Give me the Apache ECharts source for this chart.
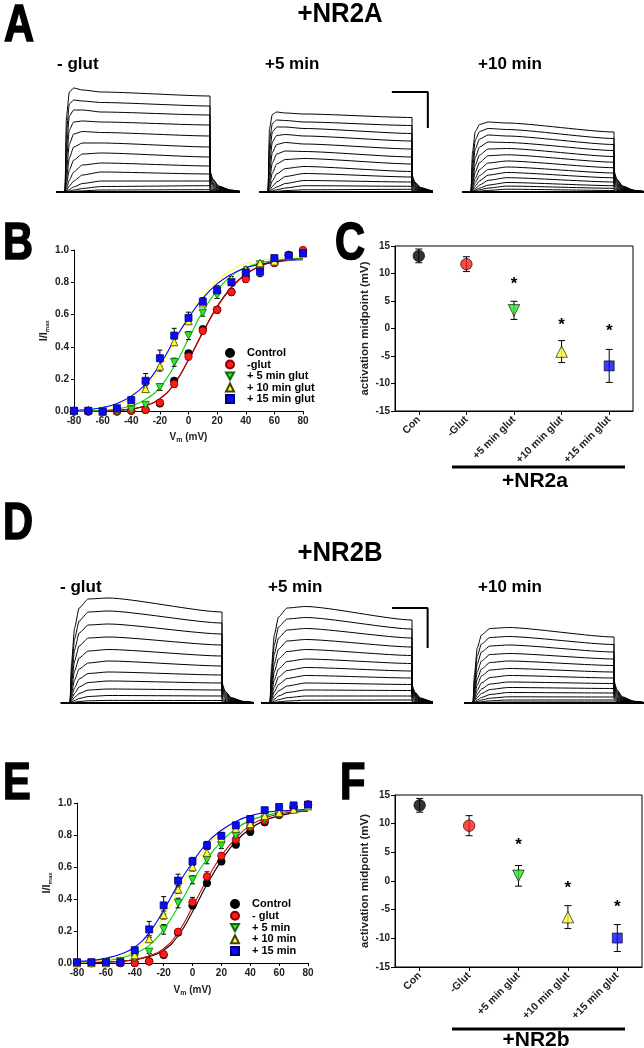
<!DOCTYPE html>
<html><head><meta charset="utf-8">
<script src="https://cdn.jsdelivr.net/npm/echarts/dist/echarts.min.js"></script>
<style>html,body{margin:0;padding:0;background:#fff}#c{width:644px;height:1048px}</style>
</head><body><div id="c"></div><script>
const FONT = 'Liberation Sans, Arial, Helvetica, sans-serif';

// ---------- I/Imax vs Vm (panels B, E) ----------
const VM = [-80,-70,-60,-50,-40,-30,-20,-10,0,10,20,30,40,50,60,70,80];

const B_CONTROL = [0,0,0,0,0.005,0.01,0.05,0.19,0.36,0.51,0.63,0.74,0.83,0.90,0.92,0.97,0.99];
const B_GLUT    = [0,0,0,0,0.005,0.01,0.055,0.17,0.34,0.50,0.63,0.74,0.82,0.89,0.92,0.965,1.0];
const B_5MIN    = [0,0,0,0,0.01,0.04,0.15,0.305,0.47,0.61,0.72,0.80,0.86,0.91,0.93,0.96,0.98];
const B_10MIN   = [0.005,0.01,0,0.02,0.06,0.14,0.28,0.43,0.56,0.67,0.76,0.82,0.88,0.92,0.93,0.96,0.98];
const B_15MIN   = [0.005,0.005,0,0.02,0.07,0.19,0.33,0.47,0.58,0.68,0.75,0.80,0.86,0.865,0.95,0.965,0.98];
const B_CONTROL_ERR = [0,0,0,0,0,0.005,0.01,0.015,0.015,0.015,0.015,0.015,0.02,0.015,0.01,0.01,0.01];
const B_GLUT_ERR    = [0,0,0,0,0,0.005,0.01,0.02,0.02,0.02,0.02,0.02,0.02,0.015,0.01,0.01,0.01];
const B_5MIN_ERR    = [0,0,0,0,0.005,0.01,0.02,0.025,0.025,0.02,0.02,0.015,0.015,0.01,0.01,0.01,0.01];
const B_10MIN_ERR   = [0,0,0,0.005,0.01,0.02,0.03,0.02,0.02,0.02,0.02,0.015,0.015,0.01,0.01,0.01,0.01];
const B_15MIN_ERR   = [0.005,0,0,0.01,0.02,0.045,0.05,0.045,0.035,0.025,0.02,0.02,0.025,0.03,0.015,0.01,0.015];
const B_FIT_CONTROL = [0,0.001,0.003,0.007,0.015,0.035,0.08,0.17,0.32,0.49,0.65,0.77,0.85,0.90,0.93,0.94,0.95];
const B_FIT_GLUT    = [0,0.001,0.003,0.007,0.016,0.036,0.08,0.17,0.32,0.49,0.645,0.765,0.85,0.90,0.925,0.94,0.95];
const B_FIT_5MIN    = [0,0.004,0.008,0.016,0.035,0.075,0.15,0.28,0.45,0.62,0.75,0.84,0.89,0.92,0.935,0.945,0.95];
const B_FIT_10MIN   = [0.005,0.01,0.02,0.04,0.08,0.15,0.27,0.42,0.575,0.71,0.81,0.875,0.915,0.935,0.948,0.953,0.956];
const B_FIT_15MIN   = [0.006,0.012,0.025,0.05,0.095,0.17,0.29,0.44,0.58,0.70,0.79,0.85,0.89,0.91,0.925,0.935,0.94];

const E_CONTROL = [0,0,0,0,0,0.01,0.05,0.19,0.36,0.50,0.635,0.74,0.82,0.88,0.925,0.97,0.99];
const E_GLUT    = [0,0,0,0,0,0.01,0.055,0.195,0.38,0.54,0.67,0.77,0.85,0.89,0.93,0.97,0.99];
const E_5MIN    = [0,0,0.005,0.01,0.03,0.07,0.21,0.375,0.52,0.645,0.735,0.795,0.85,0.90,0.93,0.96,0.985];
const E_10MIN   = [0,0,0,0.01,0.05,0.15,0.30,0.46,0.60,0.69,0.78,0.84,0.87,0.92,0.94,0.96,0.98];
const E_15MIN   = [0.005,0.005,0.005,0.005,0.08,0.21,0.36,0.515,0.635,0.735,0.795,0.86,0.90,0.955,0.975,0.985,0.99];
const E_CONTROL_ERR = [0,0,0,0,0,0.005,0.01,0.015,0.02,0.02,0.02,0.02,0.02,0.02,0.015,0.01,0.01];
const E_GLUT_ERR    = [0,0,0,0,0,0.005,0.01,0.015,0.03,0.03,0.02,0.02,0.02,0.02,0.015,0.01,0.01];
const E_5MIN_ERR    = [0,0,0,0,0.005,0.01,0.03,0.03,0.025,0.025,0.02,0.02,0.02,0.015,0.01,0.01,0.01];
const E_10MIN_ERR   = [0,0,0,0.005,0.01,0.02,0.025,0.025,0.025,0.02,0.02,0.02,0.02,0.015,0.01,0.01,0.01];
const E_15MIN_ERR   = [0.005,0,0,0,0.01,0.05,0.055,0.04,0.025,0.025,0.02,0.02,0.02,0.015,0.015,0.01,0.01];
const E_FIT_CONTROL = [0,0.002,0.005,0.01,0.02,0.04,0.08,0.17,0.32,0.49,0.64,0.76,0.84,0.89,0.92,0.94,0.95];
const E_FIT_GLUT    = [0,0.002,0.006,0.012,0.022,0.045,0.09,0.19,0.35,0.52,0.67,0.78,0.86,0.905,0.93,0.945,0.95];
const E_FIT_5MIN    = [0.005,0.01,0.015,0.03,0.06,0.11,0.21,0.35,0.51,0.65,0.76,0.84,0.89,0.92,0.94,0.95,0.955];
const E_FIT_10MIN   = [0.005,0.01,0.02,0.04,0.08,0.16,0.29,0.45,0.60,0.73,0.82,0.88,0.92,0.94,0.95,0.955,0.96];
const E_FIT_15MIN   = [0.01,0.015,0.03,0.055,0.10,0.19,0.33,0.49,0.63,0.75,0.83,0.885,0.92,0.94,0.95,0.955,0.96];

const B_NAMES = ['Control','-glut','+ 5 min glut','+ 10 min glut','+ 15 min glut'];
const E_NAMES = ['Control','- glut','+ 5 min','+ 10 min','+ 15 min'];

// ---------- activation midpoints (panels C, F) ----------
const MID_CATS = ['Con','-Glut','+5 min glut','+10 min glut','+15 min glut'];
const C_MID = [13.2, 11.7, 3.3, -4.2, -6.8];
const C_SEM = [1.25, 1.35, 1.65, 2.0, 3.0];
const C_STAR = [null, null, 8.7, 1.3, 0.2];
const F_MID = [13.2, 9.65, 0.9, -6.3, -9.95];
const F_SEM = [1.2, 1.75, 1.8, 2.0, 2.35];
const F_STAR = [null, null, 7.0, -0.6, -3.9];

// ---------- current traces (panels A, D) ----------
// amplitude at STEP_T (after t=0) then tail amplitude at TAIL_T (last tail point returns to 0)
const STEP_T = [0, 1, 3, 6, 12, 25, 100];
const TAIL_T = [100, 102, 106, 114, 125];
const A_GLUT = [
 [75,100,104,102,100,96, 21,13,6,2],
 [60,88,92,91,89.5,86, 19,12,5.5,1.8],
 [45,76,82,82,80,77, 17,10.5,5,1.6],
 [33,62,70,71,70,67, 15,9,4.5,1.4],
 [22,48,58,60.5,59.5,56, 13,8,4,1.2],
 [14,34,45,49,49,45, 11,7,3.3,1],
 [8,22,32,38,39,35, 9,5.5,2.7,0.8],
 [4,12,20,27,29,26, 7,4.3,2.1,0.6],
 [2,6,11,17,20,18, 5,3,1.5,0.5],
 [1,2.5,5,8.5,11,11, 3.5,2.2,1,0.3],
 [0.3,1,2,3.5,5.5,6.3, 2,1.2,0.6,0.2],
 [0,0.3,0.7,1.2,2,2.3, 1,0.6,0.3,0.1]
];
const A_5MIN = [
 [63,77.5,80,79,78,74.5, 17,10,4.5,1.4],
 [49.5,68.5,72,71.5,70,66.5, 15.5,9,4,1.2],
 [38,60,65,65,63.5,58.5, 13.5,8,3.6,1.1],
 [27,50,56.5,57.5,56,51, 11.5,7,3.2,0.9],
 [18,39.5,47.5,49.5,48,43, 10,6,2.7,0.8],
 [11,29,38,41,40.5,35, 8.5,5.1,2.3,0.7],
 [6.3,19,28,32.5,33.5,28, 7.2,4.3,2,0.6],
 [3.6,11,18,23.5,25.5,20.5, 5.8,3.5,1.6,0.5],
 [1.8,5.4,10,15.5,18.5,15, 4.5,2.7,1.3,0.4],
 [0.9,2.7,5,8.5,11.5,10, 3.2,1.9,0.9,0.3],
 [0.4,1.1,2.2,4,6.3,5.7, 1.8,1.1,0.5,0.2],
 [0.1,0.4,0.7,1.4,2.2,2.7, 0.9,0.5,0.3,0.1]
];
const A_10MIN = [
 [39,60.5,67.5,70,69,60, 21,13,6,1.7],
 [30,52,60.5,63.5,62.5,53.5, 19,12,5.6,1.6],
 [23.5,43,53,57,56,47.5, 17.3,10.8,5.2,1.5],
 [16.5,34.5,45,50,49.5,41.5, 15.5,9.5,4.6,1.3],
 [11.2,27,37,43,43.5,35.5, 13.8,8.6,4.1,1.1],
 [7.8,20,29.5,36.3,37.2,29.8, 12,7.4,3.5,1],
 [5.2,13.8,22.5,29,31,24.3, 10.4,6.4,3,0.9],
 [3.5,9.5,16.5,22.5,25,19, 8.6,5.4,2.6,0.7],
 [2.2,6,11.2,16.9,19.5,14.2, 6.9,4.3,2.1,0.6],
 [1.3,3.5,6.9,11.7,14.3,10, 5.2,3.2,1.6,0.4],
 [0.7,1.9,3.9,6.9,9.5,6.3, 3.9,2.4,1.1,0.3],
 [0.3,1,2.2,3.9,5.9,3.7, 2.6,1.6,0.8,0.2],
 [0.1,0.3,0.8,1.6,2.8,1.5, 1.3,0.8,0.3,0.1]
];
const D_GLUT = [
 [40,75,95,104,105,91, 20,12,5.5,1.6],
 [33,64,82,91,92,80, 18,11,5,1.4],
 [26,53,70,78,79,69, 16,9.5,4.4,1.3],
 [20,42,57,65,66,58, 14,8.4,3.9,1.1],
 [15,32,45,52,53.5,47, 12,7.2,3.3,1],
 [10,23,34,40,42,37, 10,6,2.8,0.8],
 [6.5,15,24,29.5,31,28, 8,4.8,2.2,0.6],
 [4,9.5,16,20.5,22,20, 6,3.6,1.7,0.5],
 [2,5.5,9.5,13,14,13, 4,2.4,1.1,0.3],
 [1,2.5,4.5,6.5,7.5,7, 2.5,1.5,0.7,0.2],
 [0.3,0.8,1.5,2.2,2.6,2.5, 1,0.6,0.3,0.1]
];
const D_5MIN = [
 [35,68,86,95,96.5,83, 18,11,5,1.5],
 [29,58,76,84,85.5,74, 16.5,10,4.6,1.4],
 [23,49,65,73,74.5,65, 15,9,4.2,1.2],
 [18,39,54,62,63.5,56, 13.5,8,3.8,1.1],
 [13,31,44,51.5,53.5,47.5, 12,7.2,3.4,1],
 [9,23,34,41.5,44,39.5, 10.5,6.3,3,0.9],
 [6,16,26,32.5,35.5,32, 9,5.4,2.5,0.7],
 [4,11,18.5,24.5,27.5,25, 7.5,4.5,2.1,0.6],
 [2.5,7,12,17,20,18.5, 6,3.6,1.7,0.5],
 [1.3,3.8,7,10.5,13,12.5, 4.5,2.7,1.3,0.4],
 [0.6,1.8,3.3,5.3,7,7, 3,1.8,0.8,0.2],
 [0.2,0.6,1.2,2,2.8,3, 1.5,0.9,0.4,0.1]
];
const D_10MIN = [
 [28,55,68,74.5,75.5,66, 22,13.5,6.2,1.8],
 [23,47,59,65.5,66.5,58.5, 20,12.3,5.6,1.6],
 [18,39,51,57,58,51, 18,11,5,1.4],
 [14,31,42,48.5,49.5,44, 16,9.8,4.5,1.3],
 [10,24,34,40.5,42,37.5, 14,8.6,3.9,1.1],
 [7,18,27,33,34.5,31, 12,7.4,3.4,1],
 [5,12.5,20,25.5,27.5,25, 10,6.1,2.8,0.8],
 [3,8.5,14,19,21,19.5, 8.5,5.2,2.4,0.7],
 [2,5.5,9.5,13.5,15.5,14.5, 7,4.3,2,0.6],
 [1,3,5.5,8.5,10.5,10, 5.5,3.4,1.5,0.4],
 [0.5,1.5,3,4.8,6.2,6, 4,2.4,1.1,0.3],
 [0.2,0.6,1.3,2.2,3,3, 2.5,1.5,0.7,0.2],
 [0.1,0.2,0.4,0.7,1,1, 1.2,0.7,0.3,0.1]
];
// scale bars (time units, amplitude units of the +5 min group)
const A_BAR_T = [86, 111, 111], A_BAR_AMP = [100, 100, 64];
const D_BAR_T = [86, 111, 111], D_BAR_AMP = [95, 95, 55];

// ---------- layout ----------
const TRACE_LAYOUT = [
  {rows: A_GLUT,  onset: 65,  off: 210, base: 192, xmax: 120},
  {rows: A_5MIN,  onset: 268, off: 412, base: 192, xmax: 114, bar: [A_BAR_T, A_BAR_AMP]},
  {rows: A_10MIN, onset: 471, off: 614, base: 192, xmax: 120},
  {rows: D_GLUT,  onset: 70,  off: 222, base: 703, xmax: 120},
  {rows: D_5MIN,  onset: 270, off: 412, base: 703, xmax: 114, bar: [D_BAR_T, D_BAR_AMP]},
  {rows: D_10MIN, onset: 473, off: 614, base: 703, xmax: 120}
];
const XMIN = -6, AMP_MAX = 118;

const STYLES = [
  {symbol: 'circle', rot: 0, color: '#000000', border: '#000000', line: '#000000'},
  {symbol: 'circle', rot: 0, color: '#ff1a1a', border: '#8a0000', line: '#d40000'},
  {symbol: 'triangle', rot: 180, color: '#2ee62e', border: '#0f6a0f', line: '#00d200'},
  {symbol: 'triangle', rot: 0, color: '#ffff33', border: '#444400', line: '#ffff40'},
  {symbol: 'rect', rot: 0, color: '#0a0aff', border: '#00007a', line: '#0000ff'}
];
const DOWN_TRIANGLE = 'path://M0,0L10,0L5,9Z';

const grids = [], xAxes = [], yAxes = [], series = [];

function errRender(cap) {
  return function (params, api) {
    const x = api.value(0);
    const lo = api.coord([x, api.value(1)]);
    const hi = api.coord([x, api.value(2)]);
    const st = {stroke: '#000', lineWidth: 1};
    return {type: 'group', children: [
      {type: 'line', shape: {x1: lo[0], y1: lo[1], x2: hi[0], y2: hi[1]}, style: st},
      {type: 'line', shape: {x1: hi[0] - cap, y1: hi[1], x2: hi[0] + cap, y2: hi[1]}, style: st},
      {type: 'line', shape: {x1: lo[0] - cap, y1: lo[1], x2: lo[0] + cap, y2: lo[1]}, style: st}
    ]};
  };
}

const axisLabelStyle = {fontFamily: FONT, fontWeight: 'bold', fontSize: 10, color: '#222'};
const axisLine = {show: true, onZero: false, lineStyle: {color: '#000', width: 1}};

function ivPanel(g, box, sets, xNameGap) {
  grids.push({left: box.left, top: box.top, width: box.width, height: box.height});
  xAxes.push({gridIndex: g, type: 'value', min: -80, max: 80, interval: 20,
    axisLine, axisTick: {show: true, inside: false, length: 3, lineStyle: {color: '#000'}},
    axisLabel: Object.assign({margin: 5}, axisLabelStyle), splitLine: {show: false},
    name: 'V{s|m} (mV)', nameLocation: 'middle', nameGap: xNameGap,
    nameTextStyle: {fontFamily: FONT, fontWeight: 'bold', fontSize: 10, color: '#222',
      rich: {s: {fontFamily: FONT, fontWeight: 'bold', fontSize: 7, color: '#222', padding: [6, 0, 0, 0]}}}});
  yAxes.push({gridIndex: g, type: 'value', min: 0, max: 1, interval: 0.2,
    axisLine, axisTick: {show: true, inside: false, length: 3, lineStyle: {color: '#000'}},
    axisLabel: Object.assign({margin: 5, formatter: v => v.toFixed(1)}, axisLabelStyle), splitLine: {show: false},
    name: 'I/I{s|max}', nameLocation: 'middle', nameGap: 24, nameRotate: 90,
    nameTextStyle: {fontFamily: FONT, fontWeight: 'bold', fontSize: 11, color: '#222',
      rich: {s: {fontFamily: FONT, fontWeight: 'bold', fontSize: 6, color: '#222', padding: [7, 0, 0, 0]}}}});
  sets.forEach((s, k) => {
    const st = STYLES[k];
    series.push({type: 'line', name: s.name + ' fit', xAxisIndex: g, yAxisIndex: g, smooth: 0.5,
      symbol: 'none', data: VM.map((v, i) => [v, s.fit[i]]), lineStyle: {color: st.line, width: 1.1}, z: 2, silent: true});
  });
  sets.forEach((s) => {
    series.push({type: 'custom', xAxisIndex: g, yAxisIndex: g, renderItem: errRender(2.5), z: 3, silent: true,
      data: VM.map((v, i) => [v, s.mean[i] - s.err[i], s.mean[i] + s.err[i]]).filter(d => d[2] - d[1] > 0.012)});
  });
  sets.forEach((s, k) => {
    const st = STYLES[k];
    series.push({type: 'scatter', name: s.name, xAxisIndex: g, yAxisIndex: g, symbol: st.symbol, symbolRotate: st.rot,
      symbolSize: st.symbol === 'rect' ? 7 : 7.5, data: VM.map((v, i) => [v, s.mean[i]]),
      itemStyle: {color: st.color, borderColor: st.border, borderWidth: 0.8, opacity: 1}, z: 4 + k * 0.01});
  });
}

function midPanel(g, box, mids, sems, stars) {
  grids.push({left: box.left, top: box.top, width: box.width, height: box.height, show: true, borderColor: '#000', borderWidth: 1});
  xAxes.push({gridIndex: g, type: 'category', data: MID_CATS, boundaryGap: true,
    axisLine, axisTick: {show: true, alignWithLabel: true, inside: false, length: 4, lineStyle: {color: '#000'}},
    axisLabel: {rotate: 45, margin: 7, fontFamily: FONT, fontWeight: 'bold', fontSize: 10.5, color: '#222', interval: 0},
    splitLine: {show: false}});
  yAxes.push({gridIndex: g, type: 'value', min: -15, max: 15, interval: 5,
    axisLine, axisTick: {show: true, inside: false, length: 4, lineStyle: {color: '#000'}},
    axisLabel: Object.assign({margin: 5}, axisLabelStyle), splitLine: {show: false},
    name: 'activation midpoint (mV)', nameLocation: 'middle', nameGap: 24, nameRotate: 90,
    nameTextStyle: {fontFamily: FONT, fontWeight: 'bold', fontSize: 11.5, color: '#222'}});
  series.push({type: 'custom', xAxisIndex: g, yAxisIndex: g, renderItem: errRender(3.5), z: 3, silent: true,
    data: mids.map((m, i) => [i, m - sems[i], m + sems[i]])});
  series.push({type: 'scatter', xAxisIndex: g, yAxisIndex: g, z: 4, silent: true,
    data: mids.map((m, i) => {
      const st = STYLES[i];
      return {value: [i, m], symbol: st.symbol, symbolRotate: st.rot, symbolSize: st.symbol === 'rect' ? 10 : 11.5,
        itemStyle: {color: st.color, borderColor: '#000', borderWidth: 0.8}};
    })});
  series.push({type: 'custom', xAxisIndex: g, yAxisIndex: g, z: 5, silent: true,
    data: stars.map((s, i) => [i, s]).filter(d => d[1] !== null),
    renderItem: (params, api) => {
      const p = api.coord([api.value(0), api.value(1)]);
      return {type: 'text', x: p[0], y: p[1] + 4,
        style: {text: '*', fill: '#000', font: 'bold 17px ' + FONT, align: 'center', verticalAlign: 'middle',
          textAlign: 'center', textVerticalAlign: 'middle'}};
    }});
}

ivPanel(0, {left: 74, top: 250, width: 229, height: 161.5}, [
  {name: B_NAMES[0], mean: B_CONTROL, err: B_CONTROL_ERR, fit: B_FIT_CONTROL},
  {name: B_NAMES[1], mean: B_GLUT, err: B_GLUT_ERR, fit: B_FIT_GLUT},
  {name: B_NAMES[2], mean: B_5MIN, err: B_5MIN_ERR, fit: B_FIT_5MIN},
  {name: B_NAMES[3], mean: B_10MIN, err: B_10MIN_ERR, fit: B_FIT_10MIN},
  {name: B_NAMES[4], mean: B_15MIN, err: B_15MIN_ERR, fit: B_FIT_15MIN}
], 19);
ivPanel(1, {left: 77, top: 803, width: 231, height: 160}, [
  {name: E_NAMES[0], mean: E_CONTROL, err: E_CONTROL_ERR, fit: E_FIT_CONTROL},
  {name: E_NAMES[1], mean: E_GLUT, err: E_GLUT_ERR, fit: E_FIT_GLUT},
  {name: E_NAMES[2], mean: E_5MIN, err: E_5MIN_ERR, fit: E_FIT_5MIN},
  {name: E_NAMES[3], mean: E_10MIN, err: E_10MIN_ERR, fit: E_FIT_10MIN},
  {name: E_NAMES[4], mean: E_15MIN, err: E_15MIN_ERR, fit: E_FIT_15MIN}
], 21);
midPanel(2, {left: 395, top: 246, width: 238, height: 165}, C_MID, C_SEM, C_STAR);
midPanel(3, {left: 395, top: 795, width: 247, height: 172}, F_MID, F_SEM, F_STAR);

TRACE_LAYOUT.forEach((L, j) => {
  const g = 4 + j;
  const pxPerT = (L.off - L.onset) / 100;
  grids.push({left: L.onset + XMIN * pxPerT, width: (L.xmax - XMIN) * pxPerT, top: L.base - AMP_MAX, height: AMP_MAX});
  xAxes.push({gridIndex: g, type: 'value', min: XMIN, max: L.xmax, show: false});
  yAxes.push({gridIndex: g, type: 'value', min: 0, max: AMP_MAX, show: false});
  L.rows.forEach(row => {
    const pts = [[XMIN, 0], [0, 0]];
    for (let i = 1; i < STEP_T.length; i++) pts.push([STEP_T[i], row[i - 1]]);
    for (let i = 0; i < 4; i++) pts.push([TAIL_T[i], row[6 + i]]);
    pts.push([TAIL_T[4], 0], [L.xmax, 0]);
    series.push({type: 'line', xAxisIndex: g, yAxisIndex: g, data: pts, symbol: 'none', smooth: 0.2,
      smoothMonotone: 'x', lineStyle: {color: '#000', width: 1}, silent: true, clip: true});
  });
  series.push({type: 'line', xAxisIndex: g, yAxisIndex: g, data: [[XMIN, 0], [L.xmax, 0]], symbol: 'none',
    lineStyle: {color: '#000', width: 2}, silent: true});
  if (L.bar) {
    series.push({type: 'line', xAxisIndex: g, yAxisIndex: g, symbol: 'none', silent: true, clip: false,
      data: L.bar[0].map((t, i) => [t, L.bar[1][i]]), lineStyle: {color: '#000', width: 2}});
  }
});

const legendText = {fontFamily: FONT, fontWeight: 'bold', fontSize: 11, color: '#000', lineHeight: 11, padding: [0, 0, 0, 8]};
const legendItems = names => names.map((n, i) => i === 2 ? {name: n, icon: DOWN_TRIANGLE} : {name: n});
const legends = [
  {left: 225, top: 347.5, data: legendItems(B_NAMES), itemGap: 0.5},
  {left: 230, top: 898.5, data: legendItems(E_NAMES), itemGap: 0.75}
].map(l => Object.assign({orient: 'vertical', padding: 0, itemWidth: 8, itemHeight: 8, selectedMode: false,
  textStyle: legendText}, l));

function txt(x, y, s, font, align, sx, heavy) {
  const style = {text: s, font, fill: '#000', align: align || 'left', verticalAlign: 'middle',
    textAlign: align || 'left', textVerticalAlign: 'middle'};
  if (heavy) { style.stroke = '#000'; style.lineWidth = heavy; }
  return {type: 'text', x, y, scaleX: sx || 1, silent: true, style};
}
const BIG = 'bold 52px ' + FONT, TITLE = 'bold 28px ' + FONT, SUB = 'bold 17px ' + FONT, GRP = 'bold 21px ' + FONT;
const graphic = [
  txt(4, 27, 'A', BIG, 'left', 0.8, 1.6),
  txt(340, 14, '+NR2A', TITLE, 'center', 0.92),
  txt(57, 64, '- glut', SUB), txt(265, 64, '+5 min', SUB), txt(478, 64, '+10 min', SUB),
  txt(3, 245, 'B', BIG, 'left', 0.8, 1.6),
  txt(335, 245, 'C', BIG, 'left', 0.8, 1.6),
  txt(535, 481, '+NR2a', GRP, 'center'),
  {type: 'line', silent: true, shape: {x1: 452, y1: 467, x2: 625, y2: 467}, style: {stroke: '#000', lineWidth: 3}},
  txt(3, 525, 'D', BIG, 'left', 0.8, 1.6),
  txt(340, 553, '+NR2B', TITLE, 'center', 0.92),
  txt(60, 587, '- glut', SUB), txt(268, 587, '+5 min', SUB), txt(478, 587, '+10 min', SUB),
  txt(3, 785, 'E', BIG, 'left', 0.8, 1.6),
  txt(340, 785, 'F', BIG, 'left', 0.8, 1.6),
  {type: 'line', silent: true, shape: {x1: 452, y1: 1029, x2: 625, y2: 1029}, style: {stroke: '#000', lineWidth: 3}},
  txt(536, 1040, '+NR2b', GRP, 'center')
];

const chart = echarts.init(document.getElementById('c'), null, {renderer: 'canvas'});
chart.setOption({
  animation: false, backgroundColor: '#fff',
  grid: grids, xAxis: xAxes, yAxis: yAxes, legend: legends, series, graphic
});
</script></body></html>
